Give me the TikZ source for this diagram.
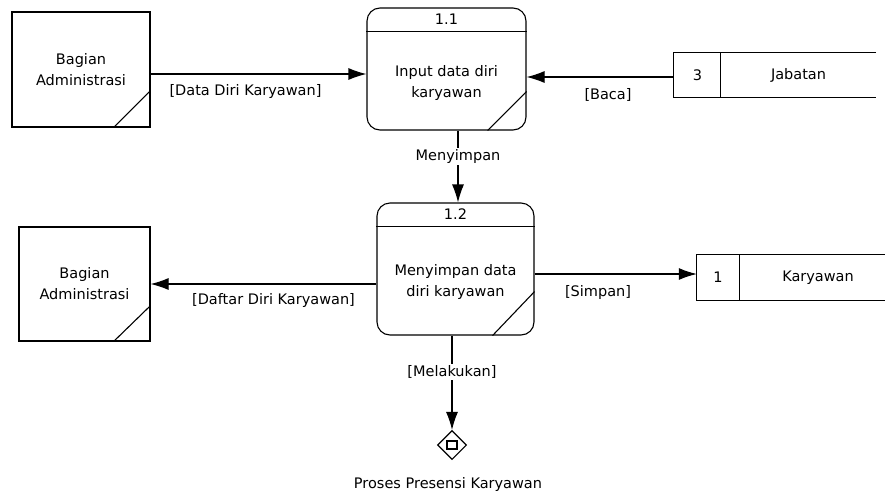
\documentclass[tikz,border=0pt]{standalone}
\usepackage{fontspec}
\setmainfont{DejaVu Sans}
\usetikzlibrary{arrows.meta,shapes.geometric}
\newcommand\dgmfont{\fontsize{14.5}{21}\selectfont}
\tikzset{
  edge/.style={line width=1.1pt, draw=black},
  entity/.style={edge, inner sep=0pt, align=center, font=\dgmfont},
  proc/.style={edge, rounded corners=13pt, inner sep=0pt},
  store/.style={inner sep=0pt},
  txt/.style={inner sep=0pt, align=center, font=\dgmfont},
  lbl/.style={inner sep=1.5pt, font=\dgmfont},
  onlabel/.style={lbl, fill=white},
  flow/.style={edge, -{Latex[length=18pt,width=12pt]}}
}
\begin{document}
\begin{tikzpicture}[x=1pt,y=-1pt]
\useasboundingbox (0,0) rectangle (885,493);

% external entities
\node[entity, minimum width=138pt, minimum height=115pt] (ext1) at (81,69.5) {Bagian\\Administrasi};
\draw[edge] ([yshift=37pt]ext1.south east) -- ([xshift=-37pt]ext1.south east);
\node[entity, minimum width=131pt, minimum height=114pt] (ext2) at (84.5,284) {Bagian\\Administrasi};
\draw[edge] ([yshift=36pt]ext2.south east) -- ([xshift=-37pt]ext2.south east);

% process 1.1
\node[proc, minimum width=159pt, minimum height=122pt] (p11) at (446.5,69) {};
\draw[edge] ([yshift=-24pt]p11.north west) -- ([yshift=-24pt]p11.north east);
\draw[edge] ([yshift=39pt]p11.south east) -- ([xshift=-39pt]p11.south east);
\node[txt] (p11id) at ([yshift=-12pt]p11.north) {1.1};
\node[txt] (p11name) at (446.5,82.5) {Input data diri\\karyawan};

% process 1.2
\node[proc, minimum width=157pt, minimum height=132pt] (p12) at (455.5,269) {};
\draw[edge] ([yshift=-24pt]p12.north west) -- ([yshift=-24pt]p12.north east);
\draw[edge] ([yshift=44pt]p12.south east) -- ([xshift=-42pt]p12.south east);
\node[txt] (p12id) at ([yshift=-12pt]p12.north) {1.2};
\node[txt] (p12name) at (455.5,281.5) {Menyimpan data\\diri karyawan};

% data store 3
\node[store, minimum width=202pt, minimum height=44pt] (jab) at (775,75) {};
\draw[edge] (jab.north east) -- (jab.north west) -- (jab.south west) -- (jab.south east);
\draw[edge] ([xshift=47pt]jab.north west) -- ([xshift=47pt]jab.south west);
\node[txt] (jabid) at (697.5,75) {3};
\node[txt] (jabname) at (798.5,75) {Jabatan};

% data store 1
\node[store, minimum width=188pt, minimum height=45pt] (kar) at (791,277.5) {};
\draw[edge] (kar.north east) -- (kar.north west) -- (kar.south west) -- (kar.south east);
\draw[edge] ([xshift=43pt]kar.north west) -- ([xshift=43pt]kar.south west);
\node[txt] (karid) at (718,277.5) {1};
\node[txt] (karname) at (818,277.5) {Karyawan};

% off-page process reference
\node[diamond, edge, minimum width=29pt, minimum height=29pt, inner sep=0pt] (ext3) at (452,445) {};
\draw[edge] ([xshift=-5pt,yshift=-4pt]ext3.center) rectangle ([xshift=5pt,yshift=4pt]ext3.center);
\node[txt] (ext3name) at (448,484) {Proses Presensi Karyawan};

% data flows
\draw[flow] ([yshift=-4.5pt]ext1.east) -- ([yshift=-4.5pt]ext1.east -| p11.west);
\node[lbl] (f1) at (245.5,91) {[Data Diri Karyawan]};

\draw[flow] ([yshift=-2pt]jab.west) -- ([yshift=-2pt]jab.west -| p11.east);
\node[lbl] (f2) at (608,95) {[Baca]};

\draw[flow] ([xshift=11.5pt]p11.south) -- ([xshift=11.5pt]p11.south |- p12.north)
  node[onlabel, pos=0.36] (f3) {Menyimpan};

\draw[flow] ([yshift=-15pt]p12.west) -- ([yshift=-15pt]p12.west -| ext2.east);
\node[lbl] (f4) at (273.5,300) {[Daftar Diri Karyawan]};

\draw[flow] ([yshift=-5pt]p12.east) -- ([yshift=-5pt]p12.east -| kar.west);
\node[lbl] (f5) at (598,292) {[Simpan]};

\draw[flow] ([xshift=-3.5pt]p12.south) -- (ext3.north)
  node[onlabel, pos=0.385] (f6) {[Melakukan]};
\end{tikzpicture}
\end{document}
